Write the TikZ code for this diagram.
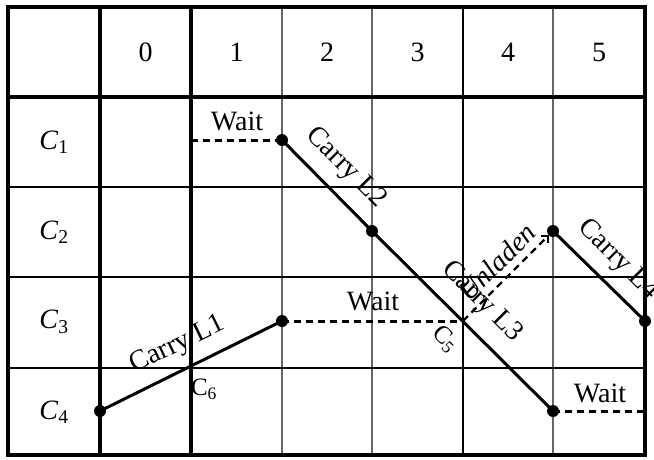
\documentclass[tikz,border=0pt]{standalone}
\usepackage{fontspec}
\setmainfont{Liberation Serif}
\usetikzlibrary{arrows.meta}
\begin{document}
\begin{tikzpicture}[x=1pt,y=-1pt,
  font=\fontsize{28}{32}\selectfont,
  thickrule/.style={line width=3.5pt},
  thinrule/.style={line width=1.2pt},
  carryline/.style={line width=3pt},
  waitline/.style={line width=3pt, dash pattern=on 7pt off 5pt},
  emptyline/.style={line width=2.2pt, dash pattern=on 7pt off 5pt},
  dot/.style={circle, fill, inner sep=0pt, minimum size=12pt},
  lbl/.style={inner sep=1pt},
  small/.style={inner sep=1pt, font=\fontsize{25}{28}\selectfont}]
\useasboundingbox (0,0) rectangle (654,459);
% grid
\foreach \x in {282,372,553} \draw[thinrule, black!60] (\x,7) -- (\x,455);
\draw[thinrule] (463,7) -- (463,455);
\foreach \y in {187,277,368} \draw[thinrule] (8,\y) -- (645,\y);
\draw[thickrule] (8,7) rectangle (645,455);
\draw[thickrule] (100,7) -- (100,455);
\draw[thickrule] (191,7) -- (191,455);
\draw[thickrule] (8,97) -- (645,97);
% header
\node[lbl] (h0) at (145.5,52) {0};
\node[lbl] (h1) at (236.5,52) {1};
\node[lbl] (h2) at (327,52) {2};
\node[lbl] (h3) at (417.5,52) {3};
\node[lbl] (h4) at (508,52) {4};
\node[lbl] (h5) at (599,52) {5};
\node[lbl] (r1) at (54,142) {\textit{C}\textsubscript{1}};
\node[lbl] (r2) at (54,232) {\textit{C}\textsubscript{2}};
\node[lbl] (r3) at (54,322) {\textit{C}\textsubscript{3}};
\node[lbl] (r4) at (54,412) {\textit{C}\textsubscript{4}};
% points
\coordinate (w1s) at (191,140);
\node[dot] (p1) at (282,140) {};
\node[dot] (p2) at (372,231) {};
\node[dot] (p3) at (553,411) {};
\node[dot] (p4) at (553,231) {};
\node[dot] (p5) at (645,321) {};
\node[dot] (p6) at (100,411) {};
\node[dot] (p7) at (282,321) {};
\coordinate (c5) at (463,321);
\coordinate (c6) at (191,366);
\coordinate (w3e) at (645,411);
% paths
\draw[waitline] (w1s) -- (p1.center);
\draw[carryline] (p1.center) -- (p2.center) -- (p3.center);
\draw[carryline] (p4.center) -- (p5.center);
\draw[carryline] (p6.center) -- (c6) -- (p7.center);
\draw[waitline] (p7.center) -- (c5);
\draw[waitline] (p3.center) -- (w3e);
\draw[emptyline, -{Straight Barb[length=5pt,width=10pt,line width=1.5pt]}] (c5) -- (p4);
% labels
\node[lbl] (lw1) at (237,121) {Wait};
\node[lbl] (lw2) at (373,301) {Wait};
\node[lbl] (lw3) at (600,393) {Wait};
\node[lbl, rotate=-45] (l2) at (346,168) {Carry L2};
\node[lbl, rotate=-45] (l3) at (482,302) {Carry L3};
\node[lbl, rotate=-45] (l4) at (618,260) {Carry L4};
\node[lbl, rotate=25.8] (l1) at (178,345) {Carry L1};
\node[lbl, rotate=45] (lu) at (497,262) {\textit{Unladen}};
\node[small, rotate=-45] (n5) at (445,339) {C\textsubscript{5}};
\node[small] (n6) at (204,389) {C\textsubscript{6}};
\end{tikzpicture}
\end{document}
